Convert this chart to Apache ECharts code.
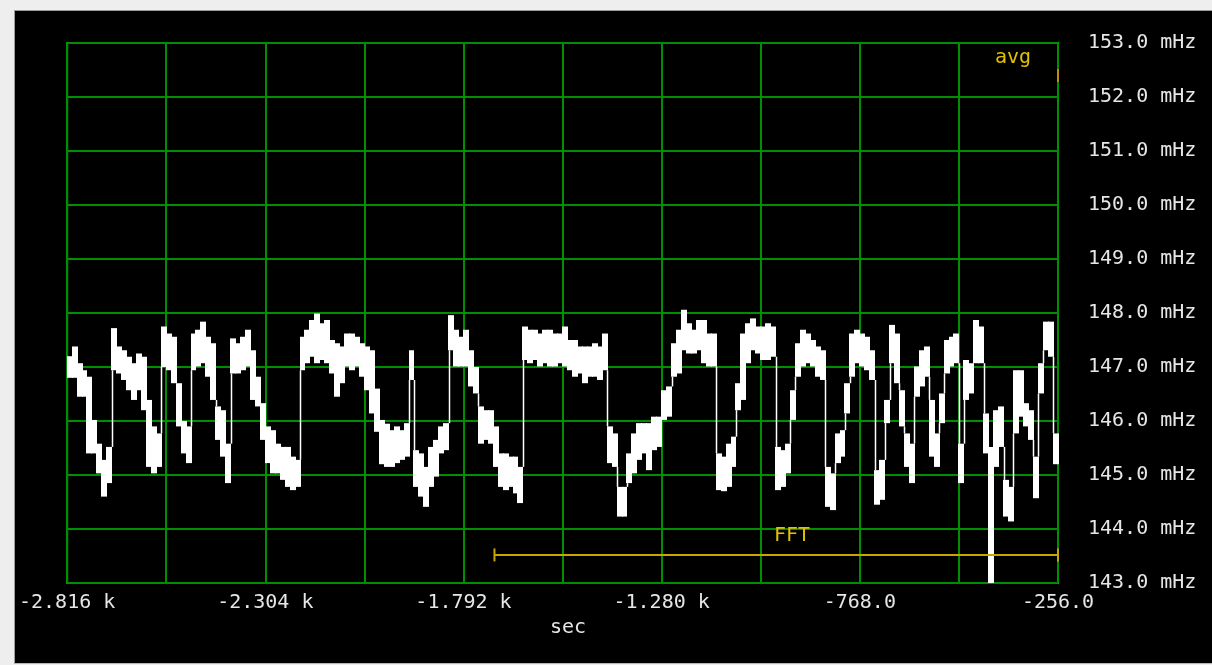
<!DOCTYPE html>
<html>
<head>
<meta charset="utf-8">
<title>Frequency offset trace</title>
<script src="https://cdn.jsdelivr.net/npm/echarts@6/dist/echarts.min.js"></script>
<style>
  html, body { margin: 0; padding: 0; background: #eeeeee; width: 1212px; height: 665px; overflow: hidden; }
  #panel { position: absolute; left: 14px; top: 10px; width: 1198px; height: 652px;
           background: #000; border-left: 1px solid #9c9c9c; border-top: 1px solid #9c9c9c;
           border-bottom: 1px solid #b8b8b8; }
  #chart { position: absolute; left: 16px; top: 12px; width: 1196px; height: 650px; }
</style>
</head>
<body>
<div id="panel"></div>
<div id="chart"></div>
<script>
// Time axis (seconds) and frequency axis (mHz)
const tStart = -2816;
const tEnd = -256;
const dt = 12.8;            // one envelope sample = 12.8 s, 20 per grid division
const xTickValues = [-2816, -2304, -1792, -1280, -768, -256];
const xTickLabels = ['-2.816 k', '-2.304 k', '-1.792 k', '-1.280 k', '-768.0', '-256.0'];
const yMin = 143;
const yMax = 153;

// Envelope of the frequency trace per sample: highest and lowest value (mHz)
const upper = [
  147.20,147.38,147.07,146.94,146.82,146.02,145.58,145.28,145.52,147.72,
  147.38,147.31,147.19,147.07,147.25,147.19,146.39,145.90,145.77,147.75,
  147.62,147.56,146.70,146.00,145.90,147.62,147.69,147.84,147.56,147.44,
  146.27,146.20,145.58,147.53,147.44,147.56,147.69,147.31,146.82,146.33,
  145.90,145.83,145.58,145.52,145.52,145.34,145.28,147.56,147.69,147.87,
  147.99,147.81,147.87,147.50,147.44,147.38,147.62,147.62,147.56,147.44,
  147.38,147.31,146.60,146.02,145.95,145.83,145.90,145.83,145.96,147.31,
  145.46,145.40,145.15,145.52,145.65,145.90,145.96,147.96,147.69,147.56,
  147.69,147.31,147.00,146.27,146.20,146.20,145.90,145.40,145.40,145.34,
  145.34,145.15,147.75,147.69,147.69,147.62,147.69,147.69,147.62,147.62,
  147.75,147.50,147.50,147.38,147.38,147.38,147.44,147.38,147.62,145.90,
  145.77,144.78,144.78,145.40,145.77,145.96,145.96,145.96,146.08,146.08,
  146.57,146.64,147.44,147.69,148.06,147.81,147.69,147.87,147.87,147.62,
  147.62,145.40,145.34,145.58,145.71,146.70,147.62,147.81,147.90,147.75,
  147.75,147.81,147.75,145.52,145.46,145.58,146.57,147.44,147.69,147.62,
  147.50,147.38,147.31,145.15,145.03,145.77,145.83,146.70,147.62,147.69,
  147.62,147.56,147.31,145.09,145.28,146.39,147.78,147.62,146.57,145.77,
  145.58,147.01,147.31,147.38,146.39,145.77,146.51,147.50,147.56,147.62,
  145.58,147.13,147.07,147.87,147.75,146.14,145.52,146.20,146.27,144.91,
  144.78,146.94,146.94,146.33,146.20,145.34,147.07,147.84,147.84,145.77
];
const lower = [
  146.80,146.80,146.45,146.45,145.40,145.40,145.03,144.60,144.85,146.94,
  146.88,146.76,146.57,146.39,146.57,146.20,145.15,145.03,145.15,147.00,
  146.94,146.70,145.90,145.40,145.22,146.94,147.01,147.07,146.82,146.39,
  145.65,145.34,144.85,146.88,146.88,146.94,147.01,146.39,146.27,145.65,
  145.22,145.03,145.03,144.91,144.78,144.72,144.78,146.94,147.07,147.19,
  147.07,147.13,147.07,146.88,146.45,146.70,147.01,146.94,147.01,146.82,
  146.57,146.14,145.80,145.20,145.15,145.15,145.22,145.28,145.34,146.76,
  144.78,144.60,144.41,144.78,144.97,145.40,145.46,147.31,147.01,147.01,
  147.01,146.64,146.51,145.58,145.65,145.58,145.15,144.78,144.72,144.78,
  144.66,144.48,147.13,147.07,147.13,147.01,147.07,147.01,147.01,147.07,
  147.01,146.94,146.82,146.88,146.70,146.82,146.82,146.76,146.94,145.22,
  145.15,144.23,144.23,144.85,145.03,145.28,145.40,145.09,145.46,145.52,
  146.02,146.08,146.82,146.88,147.31,147.25,147.25,147.31,147.07,147.01,
  147.01,144.72,144.70,144.78,145.15,146.20,146.39,147.07,147.31,147.25,
  147.13,147.13,147.19,144.72,144.78,145.03,146.02,146.82,147.01,147.07,
  147.01,146.82,146.76,144.41,144.35,145.22,145.34,146.14,146.82,147.07,
  147.01,146.94,146.76,144.45,144.54,145.96,147.07,146.70,145.90,145.15,
  144.85,146.45,146.64,146.82,145.34,145.15,145.96,146.88,147.01,147.07,
  144.85,146.39,146.51,147.07,147.07,145.40,143.00,145.15,145.52,144.23,
  144.14,145.77,146.08,145.90,145.65,144.57,146.51,147.31,147.19,145.20
];

// Averaging marker on the right edge and FFT window span
const avgMark = [[-256, 152.28], [-256, 152.52]];
const fftSpan = [[-1712, 143.52], [-256, 143.52]];
const fftLabelPos = [-943, 143.87];
const avgLabelPos = [-372, 152.72];

const textColor = '#e6e6e6';
const gridGreen = '#008f00';
const frameGreen = '#00c400';
const white = '#ffffff';
const gold = '#e2c000';
const monoFont = '"DejaVu Sans Mono", "Liberation Mono", monospace';

const traceData = upper.map((u, i) => [tStart + i * dt, lower[i], u, i]);

function renderTrace(params, api) {
  const i = api.value(3);
  const t0 = api.value(0);
  const t1 = t0 + dt;
  const lo = api.value(1);
  const hi = api.value(2);
  const a = api.coord([t0, hi]);
  const b = api.coord([t1, lo]);
  const x0 = Math.floor(a[0]);
  const x1 = Math.ceil(b[0]);
  const children = [{
    type: 'rect',
    shape: { x: x0, y: a[1], width: x1 - x0, height: Math.max(1, b[1] - a[1]) },
    style: { fill: white }
  }];
  if (i + 1 < upper.length) {
    const nLo = lower[i + 1];
    const nHi = upper[i + 1];
    let from = null, to = null;
    if (nHi < lo) { from = lo; to = nHi; }
    else if (nLo > hi) { from = hi; to = nLo; }
    if (from !== null) {
      const p = api.coord([t1, from]);
      const q = api.coord([t1, to]);
      const xs = Math.round(p[0]) + 0.5;
      children.push({
        type: 'line',
        shape: { x1: xs, y1: p[1], x2: xs, y2: q[1] },
        style: { stroke: white, lineWidth: 1.5 }
      });
    }
  }
  return { type: 'group', children: children };
}

const chart = echarts.init(document.getElementById('chart'), null, { renderer: 'canvas' });

chart.setOption({
  backgroundColor: '#000',
  animation: false,
  grid: {
    left: 51, top: 31, width: 991, height: 540,
    show: true, borderColor: frameGreen, borderWidth: 2, backgroundColor: 'transparent'
  },
  xAxis: {
    type: 'value', min: tStart, max: tEnd, interval: 256,
    name: 'sec', nameLocation: 'middle', nameGap: 34,
    nameTextStyle: { color: textColor, fontFamily: monoFont, fontSize: 20, padding: [0, 0, 0, 11] },
    axisLine: { show: false }, axisTick: { show: false },
    splitLine: { show: true, lineStyle: { color: gridGreen, width: 2 } },
    axisLabel: {
      color: textColor, fontFamily: monoFont, fontSize: 20, margin: 10,
      showMinLabel: true, showMaxLabel: true,
      formatter: v => { const k = xTickValues.indexOf(v); return k >= 0 ? xTickLabels[k] : ''; }
    }
  },
  yAxis: {
    type: 'value', position: 'right', min: yMin, max: yMax, interval: 1,
    axisLine: { show: false }, axisTick: { show: false },
    splitLine: { show: true, lineStyle: { color: gridGreen, width: 2 } },
    axisLabel: {
      color: textColor, fontFamily: monoFont, fontSize: 20, margin: 30,
      formatter: v => v.toFixed(1) + ' mHz'
    }
  },
  series: [
    {
      name: 'trace', type: 'custom', renderItem: renderTrace,
      data: traceData, encode: { x: 0, y: [1, 2] }, z: 3, clip: true
    },
    {
      name: 'FFT', type: 'line', data: fftSpan, z: 4,
      symbol: 'rect', symbolSize: [2, 13], showSymbol: true,
      lineStyle: { color: '#c8a600', width: 2 }, itemStyle: { color: '#c8a600' },
      markPoint: {
        symbolSize: 0,
        data: [{ coord: fftLabelPos, value: 'FFT' }],
        label: { show: true, formatter: 'FFT', color: gold, fontFamily: monoFont, fontSize: 20 }
      }
    },
    {
      name: 'avg', type: 'line', data: avgMark, z: 5, symbol: 'none',
      lineStyle: { color: '#c88a00', width: 2 },
      markPoint: {
        symbolSize: 0,
        data: [{ coord: avgLabelPos, value: 'avg' }],
        label: { show: true, formatter: 'avg', color: gold, fontFamily: monoFont, fontSize: 20 }
      }
    }
  ]
});
</script>
</body>
</html>
